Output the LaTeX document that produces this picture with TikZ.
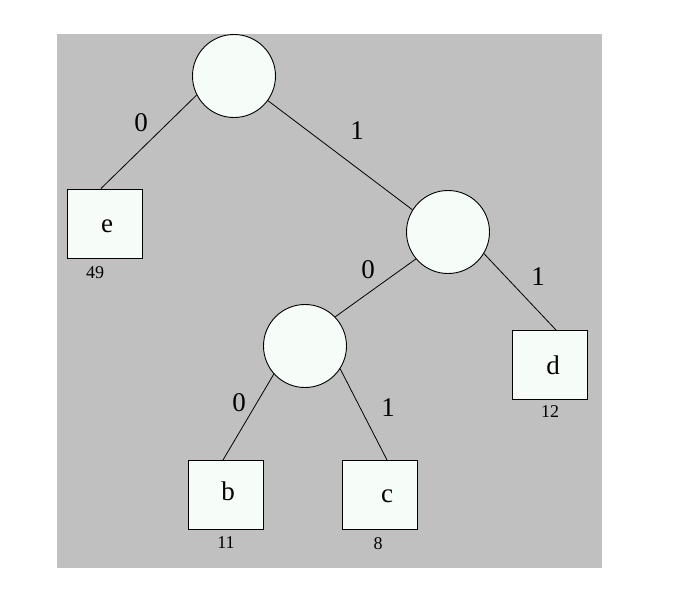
\documentclass[tikz,border=0pt]{standalone}
\usepackage{fontspec}
\setmainfont{Liberation Serif}
\definecolor{bg}{HTML}{C0C0C0}
\definecolor{nodefill}{HTML}{F6FCF8}
\begin{document}
\begin{tikzpicture}[x=1pt,y=-1pt,
  inner/.style={circle,draw=black,line width=0.9pt,fill=nodefill,minimum size=83pt,inner sep=0pt},
  leaf/.style={rectangle,draw=black,line width=1pt,fill=nodefill,minimum width=75pt,minimum height=69pt,inner sep=0pt},
  edge/.style={draw=black,line width=0.8pt},
  elabel/.style={font=\fontsize{27}{27}\selectfont,inner sep=0pt},
  wlabel/.style={font=\fontsize{18}{18}\selectfont,inner sep=0pt}]
\useasboundingbox (0,0) rectangle (685,589);
\fill[bg] (57,34) rectangle (602,568);
% nodes
\node[inner] (r) at (234,76) {};
\node[inner] (n2) at (448,232) {};
\node[inner] (n3) at (305,346) {};
\node[leaf] (e) at (104.5,223.5) {};
\node[leaf] (d) at (549.5,365) {};
\node[leaf] (b) at (226,495) {};
\node[leaf] (c) at (379.5,495) {};
% leaf letters
\node[elabel] (le) at (107,226) {e};
\node[elabel] (ld) at (553,365) {d};
\node[elabel] (lb) at (228,491) {b};
\node[elabel] (lc) at (387,496) {c};
% weights
\node[wlabel] (we) at (95,273) {49};
\node[wlabel] (wd) at (550,412) {12};
\node[wlabel] (wb) at (226,543) {11};
\node[wlabel] (wc) at (378,544) {8};
% edges
\draw[edge] (r.207) -- ([xshift=-3.5pt]e.north);
\draw[edge] (r.-36) -- (n2.148);
\draw[edge] (n2.-31) -- ([xshift=6.5pt]d.north);
\draw[edge] (n2.-140) -- (n3.44);
\draw[edge] (n3.-138) -- ([xshift=-3pt]b.north);
\draw[edge] (n3.-33) -- ([xshift=7.5pt]c.north);
% edge labels
\node[elabel] (l1) at (141,123) {0};
\node[elabel] (l2) at (357,131) {1};
\node[elabel] (l3) at (368,270) {0};
\node[elabel] (l4) at (538,277) {1};
\node[elabel] (l5) at (239,403) {0};
\node[elabel] (l6) at (388,408) {1};
\end{tikzpicture}
\end{document}
